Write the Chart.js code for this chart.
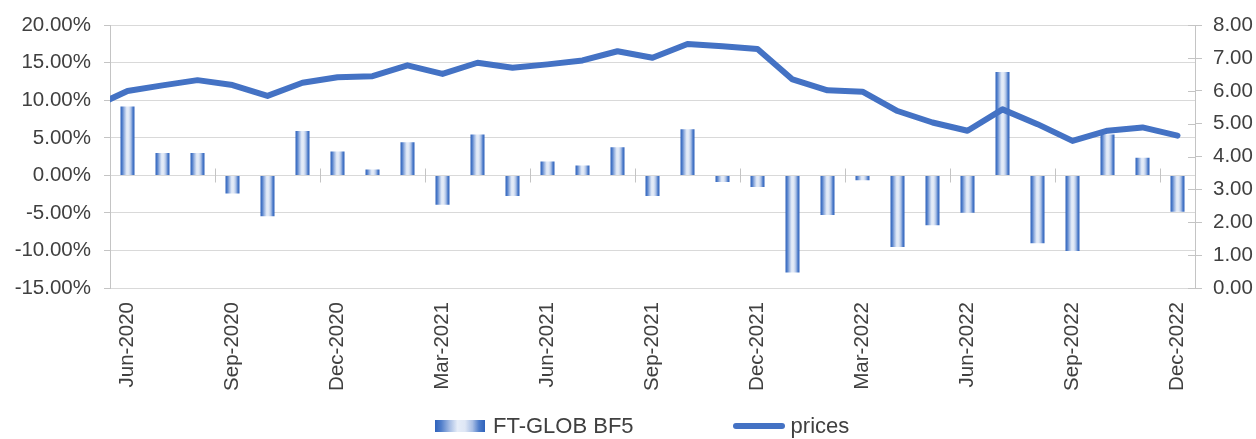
<!DOCTYPE html>
<html>
<head>
<meta charset="utf-8">
<script src="https://cdn.jsdelivr.net/npm/chart.js@4.4.1/dist/chart.umd.min.js"></script>
<style>
html,body{margin:0;padding:0;background:#ffffff;}
#wrap{width:1256px;height:439px;position:relative;overflow:hidden;}
#legend{position:absolute;left:435px;top:412px;height:28px;display:flex;align-items:center;
  font-family:'Liberation Sans',Arial,sans-serif;font-size:22px;color:#404040;white-space:nowrap;}
#legend .item{display:flex;align-items:center;}
#legend .item + .item{margin-left:99px;}
#legend .sw{display:inline-block;width:50px;margin-right:8px;}
#legend .sw.bar{height:12px;background:linear-gradient(to right,#2f62bb 0%,#4f7dca 12%,#a9bfe5 30%,#e6edf8 45%,#dfe7f5 60%,#a9bfe5 75%,#4f7dca 88%,#2f62bb 100%);}
#legend .sw.line{height:6px;border-radius:3px;background:#4472C4;width:52px;margin-right:6px;}
</style>
</head>
<body>
<div id="wrap"><canvas id="c" width="1256" height="439"></canvas><div id="legend"></div></div>
<script>
// ---- data ----
// first category (May-2020) is only partly visible: the price line enters from the left edge
const months = ['May-2020','Jun-2020','Jul-2020','Aug-2020','Sep-2020','Oct-2020','Nov-2020','Dec-2020',
  'Jan-2021','Feb-2021','Mar-2021','Apr-2021','May-2021','Jun-2021','Jul-2021','Aug-2021','Sep-2021','Oct-2021','Nov-2021','Dec-2021',
  'Jan-2022','Feb-2022','Mar-2022','Apr-2022','May-2022','Jun-2022','Jul-2022','Aug-2022','Sep-2022','Oct-2022','Nov-2022','Dec-2022'];
const firstShownMonth = 'Jun-2020';
const monthlyReturnPct = [null, 9.18, 3.0, 3.0, -2.4, -5.45, 5.93, 3.19, 0.8, 4.43, -3.9, 5.45, -2.75, 1.86, 1.33, 3.76,
  -2.75, 6.16, -0.89, -1.56, -12.95, -5.28, -0.66, -9.53, -6.65, -4.97, 13.78, -9.04, -10.07, 5.45, 2.34, -4.84];
const prices = [5.5, 6.0, 6.17, 6.33, 6.18, 5.85, 6.25, 6.42, 6.45, 6.78, 6.52, 6.86, 6.71, 6.81, 6.93, 7.21,
  7.01, 7.43, 7.36, 7.28, 6.35, 6.02, 5.98, 5.39, 5.04, 4.79, 5.44, 4.99, 4.48, 4.79, 4.89, 4.64];
const xTickLabels = ['Jun-2020','Sep-2020','Dec-2020','Mar-2021','Jun-2021','Sep-2021','Dec-2021','Mar-2022','Jun-2022','Sep-2022','Dec-2022'];
const leftAxisRange = [-15, 20, 5];   // min, max, step (percent)
const rightAxisRange = [0, 8, 1];     // min, max, step
const seriesNames = ['FT-GLOB BF5', 'prices'];

// ---- styling ----
const BLUE = '#4472C4';
const TEXT = '#404040';
const GRID = '#d9d9d9';
const AXIS = '#c4c4c4';
const FONT = "'Liberation Sans', Arial, sans-serif";
const BAR_FRACTION = 0.4;

function blueGradient(c2d, x0, x1) {
  const g = c2d.createLinearGradient(x0, 0, x1, 0);
  g.addColorStop(0, '#2f62bb');
  g.addColorStop(0.12, '#4f7dca');
  g.addColorStop(0.3, '#a9bfe5');
  g.addColorStop(0.45, '#e6edf8');
  g.addColorStop(0.6, '#dfe7f5');
  g.addColorStop(0.75, '#a9bfe5');
  g.addColorStop(0.88, '#4f7dca');
  g.addColorStop(1, '#2f62bb');
  return g;
}

const decor = {
  id: 'decor',
  beforeDatasetsDraw(chart) {
    const {ctx, chartArea, scales} = chart;
    const xs = scales.x, ys = scales.y, y1 = scales.y1;
    ctx.save();
    ctx.strokeStyle = AXIS;
    ctx.lineWidth = 1;
    // category-axis tick marks crossing the zero line (every 3 months)
    const zy = Math.round(ys.getPixelForValue(0)) + 0.5;
    xTickLabels.forEach(l => {
      const i = months.indexOf(l);
      const bx = Math.round((xs.getPixelForValue(i - 1) + xs.getPixelForValue(i)) / 2) + 0.5;
      ctx.beginPath(); ctx.moveTo(bx, zy - 7); ctx.lineTo(bx, zy + 7); ctx.stroke();
    });
    // inner half of the cross tick marks on the right axis
    y1.ticks.forEach(t => {
      const y = Math.round(y1.getPixelForValue(t.value)) + 0.5;
      ctx.beginPath(); ctx.moveTo(chartArea.right - 7, y); ctx.lineTo(chartArea.right, y); ctx.stroke();
    });
    ctx.restore();
  }
};

// HTML legend built from the chart's own legend items (dataset order)
const htmlLegend = {
  id: 'htmlLegend',
  afterUpdate(chart) {
    const box = document.getElementById('legend');
    box.innerHTML = '';
    const items = Chart.defaults.plugins.legend.labels.generateLabels(chart)
      .sort((a, b) => a.datasetIndex - b.datasetIndex);
    items.forEach(it => {
      const ds = chart.data.datasets[it.datasetIndex];
      const el = document.createElement('span');
      el.className = 'item';
      const sw = document.createElement('span');
      sw.className = 'sw ' + (ds.type === 'line' ? 'line' : 'bar');
      const tx = document.createElement('span');
      tx.textContent = it.text;
      el.appendChild(sw); el.appendChild(tx);
      box.appendChild(el);
    });
  }
};

const chart = new Chart(document.getElementById('c'), {
  data: {
    labels: months,
    datasets: [
      {
        type: 'bar',
        label: seriesNames[0],
        data: monthlyReturnPct,
        yAxisID: 'y',
        order: 2,
        barPercentage: BAR_FRACTION,
        categoryPercentage: 1.0,
        borderWidth: 0,
        backgroundColor: (c) => {
          const ch = c.chart;
          if (c.type !== 'data' || !ch.chartArea) return '#8eaadc';
          const xs = ch.scales.x;
          const cx = xs.getPixelForValue(c.dataIndex);
          const step = Math.abs(xs.getPixelForValue(2) - xs.getPixelForValue(1));
          const w = step * BAR_FRACTION;
          return blueGradient(ch.ctx, cx - w / 2, cx + w / 2);
        }
      },
      {
        type: 'line',
        label: seriesNames[1],
        data: prices,
        yAxisID: 'y1',
        order: 1,
        borderColor: BLUE,
        backgroundColor: BLUE,
        borderWidth: 6,
        borderJoinStyle: 'round',
        borderCapStyle: 'round',
        pointRadius: 0,
        pointHoverRadius: 0,
        tension: 0,
        fill: false,
        clip: 0
      }
    ]
  },
  options: {
    responsive: false,
    animation: false,
    events: [],
    layout: {padding: {left: 0, right: 0, top: 24, bottom: 0}},
    plugins: {
      tooltip: {enabled: false},
      title: {display: false},
      legend: {display: false}
    },
    scales: {
      x: {
        type: 'category',
        min: firstShownMonth,
        offset: true,
        grid: {display: false, drawTicks: false},
        border: {display: false},
        ticks: {
          autoSkip: false,
          minRotation: 90,
          maxRotation: 90,
          padding: 14,
          color: TEXT,
          font: {family: FONT, size: 20.5},
          callback: function (v) {
            const l = this.getLabelForValue(v);
            return xTickLabels.includes(l) ? l : '';
          }
        },
        afterFit: (s) => { s.height = 151; }
      },
      y: {
        position: 'left',
        min: leftAxisRange[0],
        max: leftAxisRange[1],
        grid: {color: GRID, lineWidth: 1, drawTicks: true, tickLength: 6, tickColor: AXIS},
        border: {display: true, color: AXIS, width: 1},
        ticks: {
          stepSize: leftAxisRange[2],
          padding: 13,
          color: TEXT,
          font: {family: FONT, size: 20.5},
          callback: (v) => v.toFixed(2) + '%'
        },
        afterFit: (s) => { s.width = 110; }
      },
      y1: {
        position: 'right',
        min: rightAxisRange[0],
        max: rightAxisRange[1],
        grid: {drawOnChartArea: false, drawTicks: true, tickLength: 7, color: AXIS},
        border: {display: true, color: AXIS, width: 1},
        ticks: {
          stepSize: rightAxisRange[2],
          padding: 11,
          color: TEXT,
          font: {family: FONT, size: 20.5},
          callback: (v) => v.toFixed(2)
        },
        afterFit: (s) => { s.width = 61; }
      }
    }
  },
  plugins: [decor, htmlLegend]
});
</script>
</body>
</html>
